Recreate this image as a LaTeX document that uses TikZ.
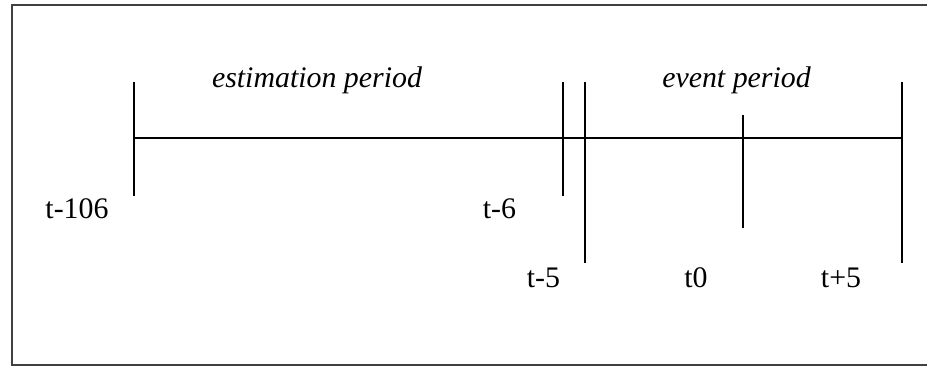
\documentclass[tikz,border=0pt]{standalone}
\usepackage{fontspec}
\setmainfont{Liberation Serif}
\begin{document}
\begin{tikzpicture}[x=0.02cm, y=-0.02cm, line width=1.1pt,
		lbl/.style={anchor=base, inner sep=0pt, font=\fontsize{17}{20}\selectfont},
		period/.style={lbl, font=\fontsize{17}{20}\selectfont\itshape}]
				\useasboundingbox (0,0) rectangle (927,366);
				\clip (0,0) rectangle (927,366);
				\draw[line width=1.4pt, black!75] (12,5) rectangle (940,365);
				% ticks
				\coordinate (a1) at (134,82);  \coordinate (a2) at (134,196);
				\coordinate (b1) at (563,82);  \coordinate (b2) at (563,196);
				\coordinate (c1) at (585,82);  \coordinate (c2) at (585,263);
				\coordinate (d1) at (743,115); \coordinate (d2) at (743,228);
				\coordinate (e1) at (902,82);  \coordinate (e2) at (902,263);
				\draw (a1) -- (a2);
				\draw (b1) -- (b2);
				\draw (c1) -- (c2);
				\draw (d1) -- (d2);
				\draw (e1) -- (e2);
				\draw (a1 |- 0,138) -- (e1 |- 0,138);
				% labels
				\node[lbl] (la) at (77,218) {t-106};
				\node[lbl] (lb) at (499.5,218) {t-6};
				\node[lbl] (lc) at (543.5,287) {t-5};
				\node[lbl] (ld) at (696,287) {t0};
				\node[lbl] (le) at (841,287) {t+5};
				\node[period] (est) at (317,87) {estimation period};
				\node[period] (evt) at (736.5,87) {event period};
			\end{tikzpicture}
\end{document}
